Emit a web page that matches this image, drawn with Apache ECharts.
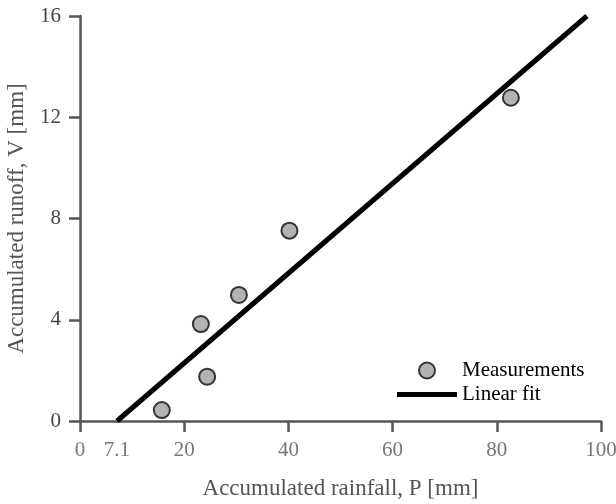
<!DOCTYPE html>
<html><head><meta charset="utf-8">
<script src="https://cdn.jsdelivr.net/npm/echarts@6/dist/echarts.min.js"></script>
<style>html,body{margin:0;padding:0;background:#fff}#c{width:616px;height:504px}</style>
</head><body><div id="c"></div>
<script>
const rainfall = [15.7, 24.4, 23.2, 30.5, 40.2, 82.7];
const runoff = [0.43, 1.75, 3.83, 4.98, 7.52, 12.77];
const fitP = [7.1, 97.3];
const fitV = [0, 16];
const xLabels = [0, 7.1, 20, 40, 60, 80, 100];
const xTicks = [0, 20, 40, 60, 80, 100];
const font = 'Liberation Serif';
const axisColor = '#555';
const chart = echarts.init(document.getElementById('c'), null, {renderer:'canvas'});
chart.setOption({
  animation:false,
  grid:{left:80, right:15, top:16, bottom:83, containLabel:false, outerBoundsMode:'none'},
  xAxis:{type:'value', min:0, max:100, interval:20,
    name:'Accumulated rainfall, P [mm]', nameLocation:'middle', nameGap:56,
    nameTextStyle:{fontFamily:font, fontSize:23, color:'#555'},
    axisLine:{show:true, onZero:false, lineStyle:{color:axisColor, width:2.5}},
    axisTick:{show:true, length:11, inside:false, customValues:xTicks, lineStyle:{color:axisColor, width:2.5}},
    axisLabel:{customValues:xLabels, fontFamily:font, fontSize:21, color:'#777', margin:19},
    splitLine:{show:false}},
  yAxis:{type:'value', min:0, max:16, interval:4,
    name:'Accumulated runoff, V [mm]', nameLocation:'middle', nameGap:52,
    nameTextStyle:{fontFamily:font, fontSize:23, color:'#555'},
    axisLine:{show:true, onZero:false, lineStyle:{color:axisColor, width:2.5}},
    axisTick:{show:true, length:11, lineStyle:{color:axisColor, width:2.5}},
    axisLabel:{fontFamily:font, fontSize:21, color:'#444', margin:19},
    splitLine:{show:false}},
  legend:{orient:'vertical', left:392, top:355, itemWidth:60, itemHeight:16, itemGap:3,
    textStyle:{fontFamily:font, fontSize:21, color:'#000'},
    data:[{name:'Measurements', icon:'circle'},
          {name:'Linear fit', icon:'path://M0,0 L60,0 L60,5 L0,5 Z'}]},
  series:[
    {name:'Linear fit', type:'line', symbol:'none', z:2,
     data:fitP.map((p,i)=>[p, fitV[i]]),
     lineStyle:{color:'#000', width:5}, itemStyle:{color:'#000'}},
    {name:'Measurements', type:'scatter', symbol:'circle', symbolSize:16, z:3,
     data:rainfall.map((p,i)=>[p, runoff[i]]),
     itemStyle:{color:'#b3b3b3', borderColor:'#333', borderWidth:2, opacity:1}}
  ]
});
</script></body></html>
